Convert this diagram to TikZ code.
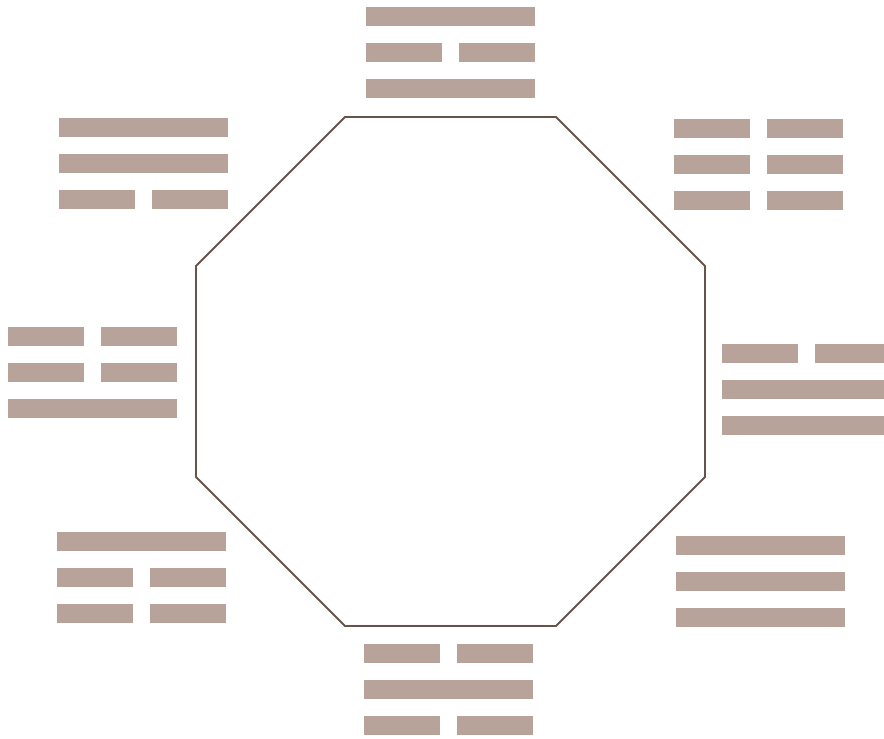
\documentclass[tikz,border=0pt]{standalone}

\definecolor{barbrown}{RGB}{183,163,154}
\definecolor{edgebrown}{RGB}{102,84,76}

\begin{document}
\begin{tikzpicture}[x=0.02cm,y=-0.02cm]

  % canvas (pixel units, y down)
  \useasboundingbox (0,0) rectangle (884,738);

  % bar sizes
  \def\w{169}   % full bar width
  \def\s{76}    % half bar width
  \def\h{19}    % bar height
  \def\p{36}    % line pitch

  % octagon corners
  \coordinate (A) at (345,117);
  \coordinate (B) at (556,117);
  \coordinate (C) at (705,266);
  \coordinate (D) at (705,477);
  \coordinate (E) at (556,626);
  \coordinate (F) at (345,626);
  \coordinate (G) at (196,477);
  \coordinate (H) at (196,266);

  \draw[edgebrown, line width=1.1pt] (A) -- (B) -- (C) -- (D) -- (E) -- (F) -- (G) -- (H) -- cycle;

  % trigrams: left/top corner, then lines from the top (1 solid, 0 broken)
  \foreach \x/\y/\a/\b/\c in {366/7/1/0/1, 674/119/0/0/0, 722/344/0/1/1, 676/536/1/1/1,
                              364/644/0/1/0, 57/532/1/0/0, 8/327/0/0/1, 59/118/1/1/0} {
    \foreach \l [count=\i from 0] in {\a,\b,\c} {
      \ifnum\l=1
        \fill[barbrown] (\x,\y+\i*\p) rectangle ++(\w,\h);
      \else
        \fill[barbrown] (\x,\y+\i*\p) rectangle ++(\s,\h);
        \fill[barbrown] (\x+\w-\s,\y+\i*\p) rectangle ++(\s,\h);
      \fi
    }
  }

\end{tikzpicture}
\end{document}
